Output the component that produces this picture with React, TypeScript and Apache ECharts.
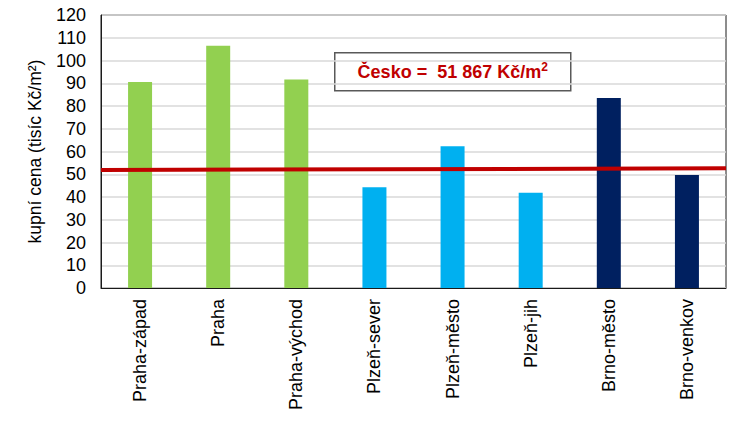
import { useEffect, useRef } from 'react'
import * as echarts from 'echarts'

// districts and average purchase price (thousand CZK per m2)
const districts = ['Praha-západ', 'Praha', 'Praha-východ', 'Plzeň-sever', 'Plzeň-město', 'Plzeň-jih', 'Brno-město', 'Brno-venkov']
const prices = [90.5, 106.5, 91.7, 44.3, 62.3, 41.9, 83.5, 49.7]
const barColors = ['#92D050', '#92D050', '#92D050', '#00B0F0', '#00B0F0', '#00B0F0', '#002060', '#002060']

// national average line (left and right end, as drawn)
const avgLine = [51.9, 52.6]
const avgLabel = 'Česko =  51 867 Kč/m'

const yTicks = { min: 0, max: 120, interval: 10 }

export default function App() {
  const chartRef = useRef<HTMLDivElement>(null)

  useEffect(() => {
    if (!chartRef.current) return
    const chart = echarts.init(chartRef.current, null, { renderer: 'svg' })

    const font = 'Arial, "Liberation Sans", sans-serif'

    const option: echarts.EChartsOption = {
      animation: false,
      backgroundColor: '#fff',
      textStyle: { fontFamily: font },
      grid: {
        left: 101,
        right: 24,
        top: 15,
        bottom: 133,
        show: true,
        borderColor: '#1a1a1a',
        borderWidth: 1,
        backgroundColor: 'transparent',
      },
      xAxis: [
        {
          type: 'category',
          data: districts,
          axisTick: { show: false },
          axisLine: { lineStyle: { color: '#1a1a1a', width: 1 } },
          axisLabel: {
            rotate: 90,
            color: '#000',
            fontSize: 18,
            fontFamily: font,
            margin: 11,
            interval: 0,
          },
        },
        {
          type: 'value',
          min: 0,
          max: 1,
          show: false,
        },
      ],
      yAxis: {
        type: 'value',
        min: yTicks.min,
        max: yTicks.max,
        interval: yTicks.interval,
        name: 'kupní cena (tisíc Kč/m²)',
        nameLocation: 'middle',
        nameRotate: 90,
        nameGap: 57,
        nameTextStyle: { color: '#000', fontSize: 17.5, fontFamily: font },
        axisLine: { show: true, lineStyle: { color: '#1a1a1a', width: 1 } },
        axisTick: { show: false },
        axisLabel: { color: '#000', fontSize: 18, fontFamily: font, margin: 15 },
        splitLine: { lineStyle: { color: '#D9D9D9', width: 1.5 } },
      },
      series: [
        {
          type: 'bar',
          data: prices.map((v, i) => ({ value: v, itemStyle: { color: barColors[i] } })),
          barWidth: 24,
          xAxisIndex: 0,
        },
        {
          type: 'line',
          xAxisIndex: 1,
          data: [
            [0, avgLine[0]],
            [1, avgLine[1]],
          ],
          symbol: 'none',
          lineStyle: { color: '#C00000', width: 4 },
          z: 5,
        },
      ],
      graphic: [
        {
          type: 'group',
          left: 334,
          top: 52,
          children: [
            {
              type: 'rect',
              shape: { x: 0, y: 0, width: 236, height: 38 },
              style: { fill: '#fff', stroke: '#595959', lineWidth: 1.5 },
            },
            {
              type: 'text',
              x: 118,
              y: 19,
              style: {
                text: `{a|${avgLabel}}{s|2}`,
                align: 'center',
                verticalAlign: 'middle',
                rich: {
                  a: { fill: '#C00000', font: `bold 18px ${font}`, lineHeight: 22 },
                  s: {
                    fill: '#C00000',
                    font: `bold 12px ${font}`,
                    lineHeight: 22,
                    verticalAlign: 'top',
                  },
                },
              },
            },
          ],
        },
      ],
    }

    chart.setOption(option)
    return () => chart.dispose()
  }, [])

  return (
    <div
      ref={chartRef}
      style={{ position: 'absolute', left: 0, top: 0, width: 750, height: 421 }}
    />
  )
}
